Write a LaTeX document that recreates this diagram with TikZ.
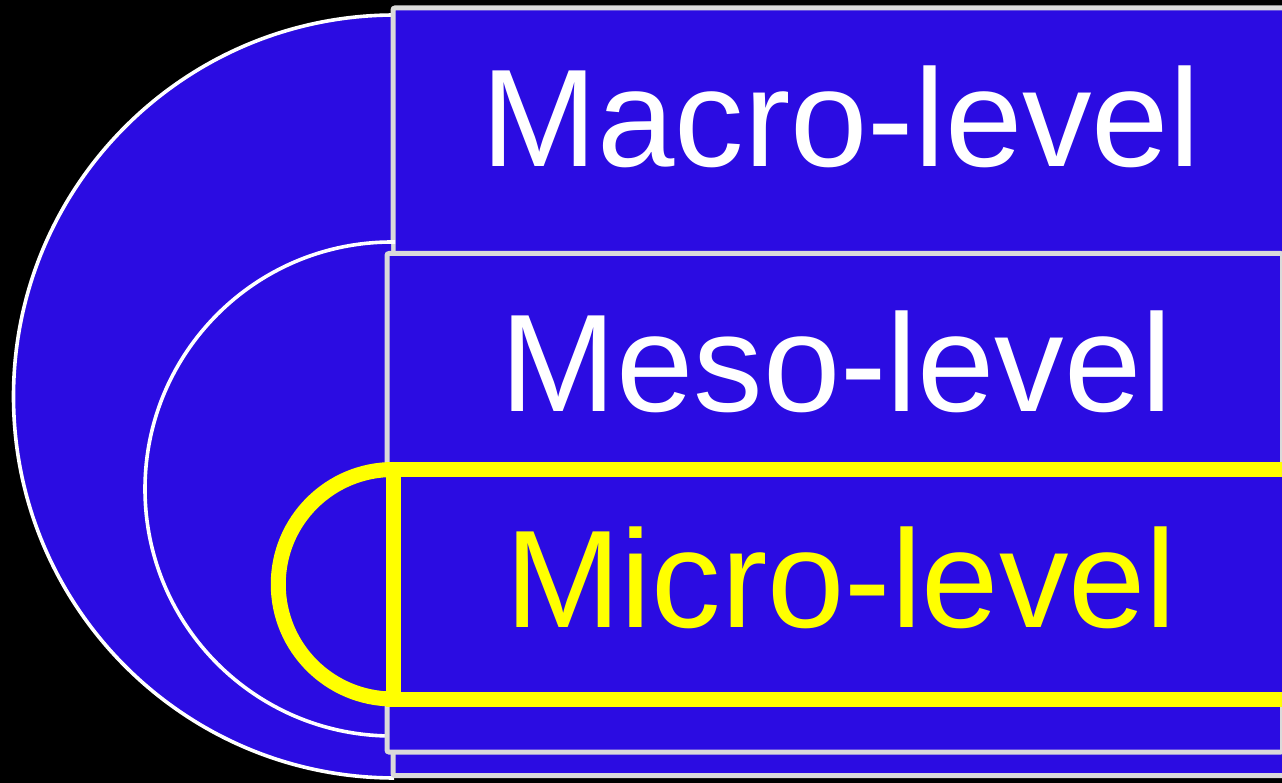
\documentclass[tikz,border=0pt]{standalone}
\usepackage{fontspec}
\setmainfont{Liberation Sans}
\definecolor{levelblue}{RGB}{43,12,226}
\definecolor{framegray}{RGB}{218,218,218}
\definecolor{levelyellow}{RGB}{255,255,0}
\begin{document}
\begin{tikzpicture}[x=1pt,y=-1pt,
  panel/.style={fill=levelblue, draw=framegray, line width=5pt, rounded corners=2pt},
  ring/.style={draw=white, line width=3.6pt},
  microline/.style={draw=levelyellow, line width=15pt},
  leveltext/.style={font=\fontsize{139}{139}\selectfont, anchor=base, inner sep=0pt}]
\useasboundingbox (0,0) rectangle (1282,783);
\fill[black] (0,0) rectangle (1282,783);

% macro level: large half disc and its panel
\begin{scope}
  \clip (0,0) rectangle (394,783);
  \filldraw[fill=levelblue, ring] (395,396.5) circle[radius=381.5];
\end{scope}
\draw[panel] (393,8) rectangle (1295,775.5);

% meso level: middle half disc and its panel
\begin{scope}
  \clip (0,0) rectangle (391,783);
  \fill[levelblue] (392,489) circle[radius=247];
\end{scope}
\begin{scope}
  \clip (0,0) rectangle (395,783);
  \draw[ring] (392,489) circle[radius=247];
\end{scope}
\draw[panel] (387,253.5) rectangle (1282.5,752);

% micro level: highlighted in yellow
\begin{scope}
  \clip (0,0) rectangle (393,783);
  \filldraw[fill=levelblue, microline] (393,584.25) circle[radius=114.75];
\end{scope}
\filldraw[fill=levelblue, microline] (393,469.5) rectangle (1292,699);

% level names
\node[leveltext, text=white] (macro) at (841,166.7) {Macro-level};
\node[leveltext, text=white] (meso) at (836.7,411.7) {Meso-level};
\node[leveltext, text=levelyellow] (micro) at (841,627.3) {Micro-level};
\end{tikzpicture}
\end{document}
